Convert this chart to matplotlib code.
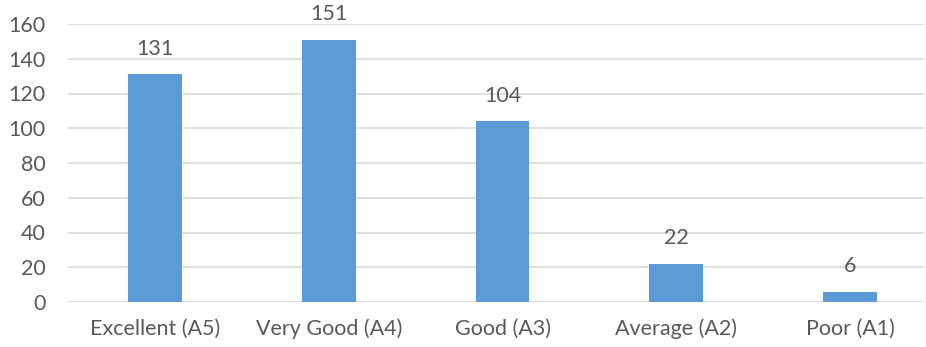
import matplotlib.pyplot as plt

categories = ['Excellent (A5)', 'Very Good (A4)', 'Good (A3)', 'Average (A2)', 'Poor (A1)']
counts = [131, 151, 104, 22, 6]
yticks = [0, 20, 40, 60, 80, 100, 120, 140, 160]

plt.rcParams['font.family'] = ['Lato', 'DejaVu Sans']
grey = '#595959'

fig = plt.figure(figsize=(9.26, 3.47), dpi=100)
ax = fig.add_axes([68 / 926, 1 - 302 / 347, (924 - 68) / 926, (302 - 24) / 347])

x = range(len(categories))
bars = ax.bar(x, counts, width=0.31, color='#5B9BD5', zorder=3)
for b, v in zip(bars, counts):
    ax.annotate(str(v), (b.get_x() + b.get_width() / 2, v), xytext=(0, 11),
                textcoords='offset points', ha='center', va='bottom',
                fontsize=15.5, color=grey)

ax.set_xlim(-0.5, 4.425)
ax.set_ylim(0, 160)
ax.set_yticks(yticks)
ax.set_xticks(list(x))
ax.set_xticklabels(categories)
ax.yaxis.grid(True, color='#D9D9D9', linewidth=1.2, zorder=0)
for s in ax.spines.values():
    s.set_visible(False)
ax.tick_params(axis='both', length=0, labelsize=15.5, colors=grey)
ax.tick_params(axis='y', pad=16)
ax.tick_params(axis='x', pad=12)

fig.savefig('out.png', dpi=100)
